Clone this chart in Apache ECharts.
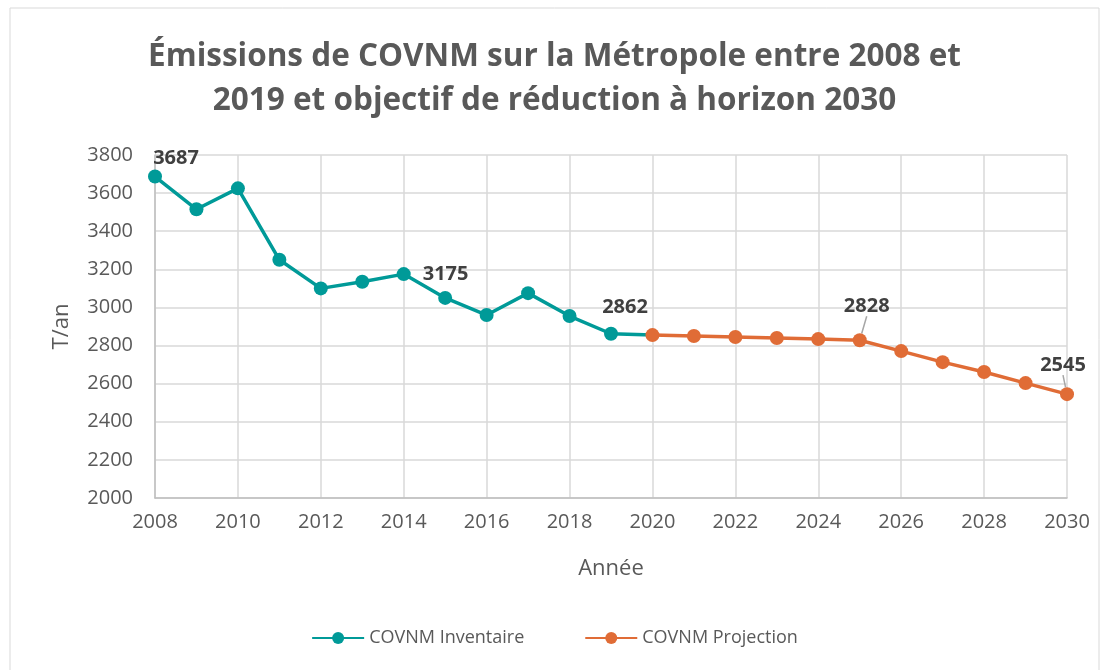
<!DOCTYPE html>
<html>
<head>
<meta charset="utf-8">
<script src="https://cdn.jsdelivr.net/npm/echarts@6/dist/echarts.min.js"></script>
<style>
  html, body { margin: 0; padding: 0; background: #fff; }
  #chart { width: 1109px; height: 670px; }
</style>
</head>
<body>
<div id="chart"></div>
<script>
var invYears = [2008, 2009, 2010, 2011, 2012, 2013, 2014, 2015, 2016, 2017, 2018, 2019, 2020]
var invValues = [3687, 3515, 3625, 3250, 3100, 3135, 3175, 3050, 2960, 3075, 2955, 2862, 2855]
var projYears = [2020, 2021, 2022, 2023, 2024, 2025, 2026, 2027, 2028, 2029, 2030]
var projValues = [2855, 2850, 2845, 2840, 2834, 2828, 2771, 2713, 2661, 2603, 2545]
// années dont la valeur est affichée
var invLabelled = [2008, 2014, 2019]
var projLabelled = [2025, 2030]

var font = 'Open Sans'
var grey = '#595959'
var teal = '#009a98'
var orange = '#e06c36'

var myChart = echarts.init(document.getElementById('chart'))

var invData = invYears.map(function (y, i) {
  var item = { value: [y, invValues[i]] }
  if (y === 2020) item.symbolSize = 0
  if (invLabelled.indexOf(y) >= 0) {
    var offsets = { 2008: [21, 4], 2014: [0, 0], 2019: [14, -4] }
    item.label = {
      show: true,
      position: y === 2014 ? 'right' : 'top',
      distance: y === 2014 ? 12 : 5,
      offset: offsets[y]
    }
  }
  return item
})

var projData = projYears.map(function (y, i) {
  var item = { value: [y, projValues[i]] }
  if (projLabelled.indexOf(y) >= 0) {
    item.label = { show: true, position: 'top' }
  }
  return item
})

var option = {
  backgroundColor: '#fff',
  textStyle: { fontFamily: font },
  title: {
    text: 'Émissions de COVNM sur la Métropole entre 2008 et\n2019 et objectif de réduction à horizon 2030',
    left: 'center',
    top: 30,
    textStyle: {
      fontFamily: font,
      fontSize: 31.5,
      fontWeight: 'bold',
      color: grey,
      lineHeight: 44
    }
  },
  graphic: [{
    type: 'rect',
    shape: { x: 10, y: 8, width: 1089, height: 680 },
    style: { fill: 'none', stroke: '#d9d9d9', lineWidth: 1 },
    silent: true
  }],
  grid: {
    left: 155,
    right: 42,
    top: 155,
    bottom: 172
  },
  legend: {
    bottom: 18,
    left: 'center',
    itemGap: 60,
    itemWidth: 52,
    itemHeight: 15,
    textStyle: { fontFamily: font, fontSize: 18, color: grey },
    data: ['COVNM Inventaire', 'COVNM Projection']
  },
  xAxis: {
    type: 'value',
    min: 2008,
    max: 2030,
    interval: 2,
    name: 'Année',
    nameLocation: 'middle',
    nameGap: 60,
    nameTextStyle: { fontFamily: font, fontSize: 22, color: grey },
    axisLine: { show: true, lineStyle: { color: '#bfbfbf', width: 1.5 } },
    axisTick: { show: false },
    axisLabel: {
      fontFamily: font, fontSize: 20, color: grey, margin: 14,
      formatter: function (v) { return String(v) }
    },
    splitLine: { show: true, lineStyle: { color: '#d9d9d9', width: 1.5 } }
  },
  yAxis: {
    type: 'value',
    min: 2000,
    max: 3800,
    interval: 200,
    name: 'T/an',
    nameLocation: 'middle',
    nameGap: 82,
    nameTextStyle: { fontFamily: font, fontSize: 22, color: grey },
    axisLine: { show: true, lineStyle: { color: '#bfbfbf', width: 1.5 } },
    axisTick: { show: false },
    axisLabel: {
      fontFamily: font, fontSize: 20, color: grey, margin: 22,
      formatter: function (v) { return String(v) }
    },
    splitLine: { show: true, lineStyle: { color: '#d9d9d9', width: 1.5 } }
  },
  series: [
    {
      name: 'COVNM Inventaire',
      type: 'line',
      data: invData,
      color: teal,
      symbol: 'circle',
      symbolSize: 14,
      lineStyle: { width: 3.5 },
      label: {
        show: false,
        fontFamily: font,
        fontSize: 20,
        fontWeight: 'bold',
        color: '#404040'
      },
      z: 2
    },
    {
      name: 'COVNM Projection',
      type: 'line',
      data: projData,
      color: orange,
      symbol: 'circle',
      symbolSize: 14,
      lineStyle: { width: 3.5 },
      label: {
        show: false,
        fontFamily: font,
        fontSize: 20,
        fontWeight: 'bold',
        color: '#404040'
      },
      labelLine: {
        show: true,
        lineStyle: { color: '#a6a6a6', width: 1.5 }
      },
      labelLayout: function (params) {
        if (params.dataIndex === 5) return { dx: 7, dy: -12 }
        if (params.dataIndex === 10) return { dx: -4, dy: -7 }
        return {}
      },
      z: 3
    }
  ]
}

myChart.setOption(option)
</script>
</body>
</html>
